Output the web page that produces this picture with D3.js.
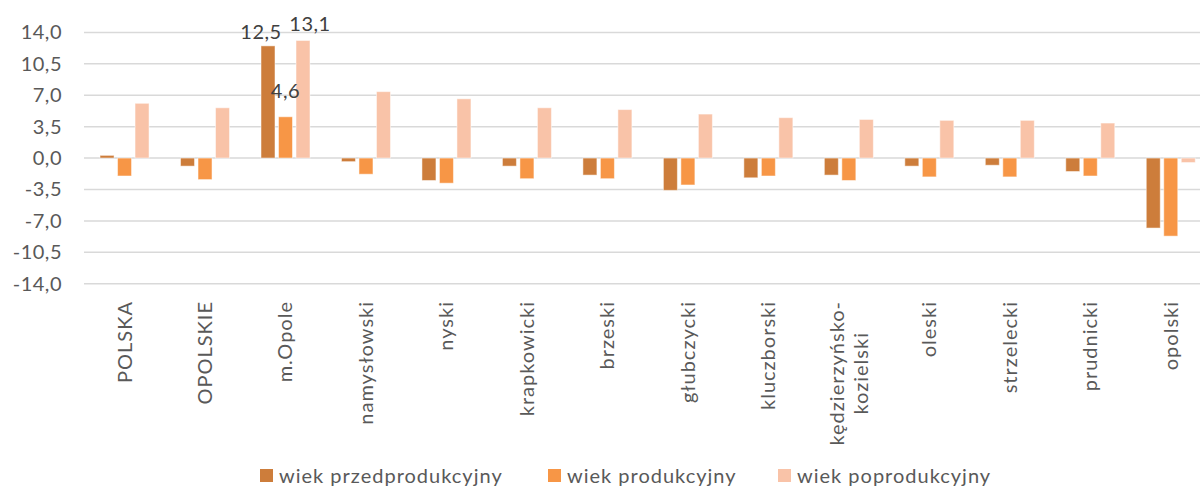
<!DOCTYPE html>
<html>
<head>
<meta charset="utf-8">
<script src="https://cdn.jsdelivr.net/npm/d3@7"></script>
<style>
  body { margin: 0; background: #fff; }
  svg { display: block; font-family: Lato, "Open Sans", sans-serif; }
</style>
</head>
<body>
<div id="chart"></div>
<script>
const categories = ["POLSKA", "OPOLSKIE", "m.Opole", "namysłowski", "nyski", "krapkowicki",
    "brzeski", "głubczycki", "kluczborski", "kędzierzyńsko-kozielski", "oleski",
    "strzelecki", "prudnicki", "opolski"];
const seriesNames = ["wiek przedprodukcyjny", "wiek produkcyjny", "wiek poprodukcyjny"];
const przed = [0.3, -0.9, 12.5, -0.4, -2.5, -0.9, -1.9, -3.6, -2.2, -1.9, -0.9, -0.8, -1.5, -7.8];
const prod = [-2.0, -2.4, 4.6, -1.8, -2.8, -2.3, -2.3, -3.0, -2.0, -2.5, -2.1, -2.1, -2.0, -8.7];
const popro = [6.1, 5.6, 13.1, 7.4, 6.6, 5.6, 5.4, 4.9, 4.5, 4.3, 4.2, 4.2, 3.9, -0.5];
const yTicks = [-14, -10.5, -7, -3.5, 0, 3.5, 7, 10.5, 14];
const colors = ["#cd7d3b", "#f79646", "#f9c3a8"];

const width = 1200, height = 487;
const series = [przed, prod, popro];

const svg = d3.select("#chart").append("svg")
    .attr("width", width)
    .attr("height", height);

// plot runs a bit past the right edge, as in the picture
const x = d3.scaleBand().domain(categories).range([84.3, 1211]);
const xs = d3.scaleBand().domain(d3.range(3))
    .range([x.bandwidth() / 2 - 26.25, x.bandwidth() / 2 + 26.25])
    .paddingInner(0.2).paddingOuter(0.1);
const y = d3.scaleLinear().domain([-14, 14]).range([283.7, 32.4]);

const fmt = v => d3.format(".1f")(v).replace(".", ",").replace("−", "-");

// gridlines
svg.append("g")
    .selectAll("line")
    .data(yTicks)
    .join("line")
    .attr("x1", 84).attr("x2", width)
    .attr("y1", d => y(d)).attr("y2", d => y(d))
    .attr("stroke", "#d9d9d9")
    .attr("stroke-width", 1.5);

// y axis labels
const yAxis = svg.append("g")
    .attr("transform", "translate(62,0)")
    .call(d3.axisLeft(y).tickValues(yTicks).tickFormat(fmt).tickSize(0).tickPadding(0));
yAxis.select(".domain").remove();
yAxis.selectAll("text")
    .attr("fill", "#595959")
    .style("font-size", "20px")
    .style("letter-spacing", "0.5px")
    .style("font-family", "Lato, 'Open Sans', sans-serif");

// bars
const rows = categories.map((c, i) => ({ cat: c, vals: series.map(s => s[i]) }));
const groups = svg.append("g")
    .selectAll("g")
    .data(rows)
    .join("g")
    .attr("transform", d => `translate(${x(d.cat)},0)`);

groups.selectAll("rect")
    .data(d => d.vals.map((v, k) => ({ v, k })))
    .join("rect")
    .attr("x", d => xs(d.k))
    .attr("width", xs.bandwidth())
    .attr("y", d => y(Math.max(0, d.v)))
    .attr("height", d => Math.abs(y(d.v) - y(0)))
    .attr("fill", d => colors[d.k])
    .attr("stroke", "#fff")
    .attr("stroke-opacity", 0.5)
    .attr("stroke-width", 1);

// data labels on m.Opole only
const labelDx = [-7, 0, 7], labelDy = [-7, -19, -9];
svg.append("g")
    .selectAll("text")
    .data(series.map((s, k) => ({ v: s[2], k })))
    .join("text")
    .attr("x", d => x("m.Opole") + xs(d.k) + xs.bandwidth() / 2 + labelDx[d.k])
    .attr("y", d => y(d.v) + labelDy[d.k])
    .attr("text-anchor", "middle")
    .attr("fill", "#404040")
    .style("font-size", "20px")
    .style("letter-spacing", "0.5px")
    .text(d => fmt(d.v));

// x labels, rotated
const xl = svg.append("g")
    .selectAll("text")
    .data(categories)
    .join("text")
    .attr("transform", d => `translate(${x(d) + x.bandwidth() / 2},301) rotate(-90)`)
    .attr("text-anchor", "end")
    .attr("fill", "#595959")
    .style("font-size", "20px")
    .style("letter-spacing", "1px");

xl.each(function (d) {
    const t = d3.select(this);
    if (d === "kędzierzyńsko-kozielski") {
        // two centred lines
        const a = t.append("tspan").attr("x", 0).attr("dy", "-0.25em").text("kędzierzyńsko-");
        const len = a.node().getComputedTextLength();
        t.attr("text-anchor", "middle");
        a.attr("x", -len / 2);
        t.append("tspan").attr("x", -len / 2).attr("dy", "1.2em").text("kozielski");
    } else {
        t.append("tspan").attr("dy", "0.35em").text(d);
    }
});

// legend
const legendX = [260, 548, 778];
const legend = svg.append("g")
    .selectAll("g")
    .data(seriesNames)
    .join("g")
    .attr("transform", (d, i) => `translate(${legendX[i]},469)`);
legend.append("rect")
    .attr("width", 13).attr("height", 13)
    .attr("fill", (d, i) => colors[i]);
legend.append("text")
    .attr("x", 19).attr("y", 7)
    .attr("dy", "0.35em")
    .attr("fill", "#595959")
    .style("font-size", "20px")
    .style("letter-spacing", "1px")
    .text(d => d);
</script>
</body>
</html>
